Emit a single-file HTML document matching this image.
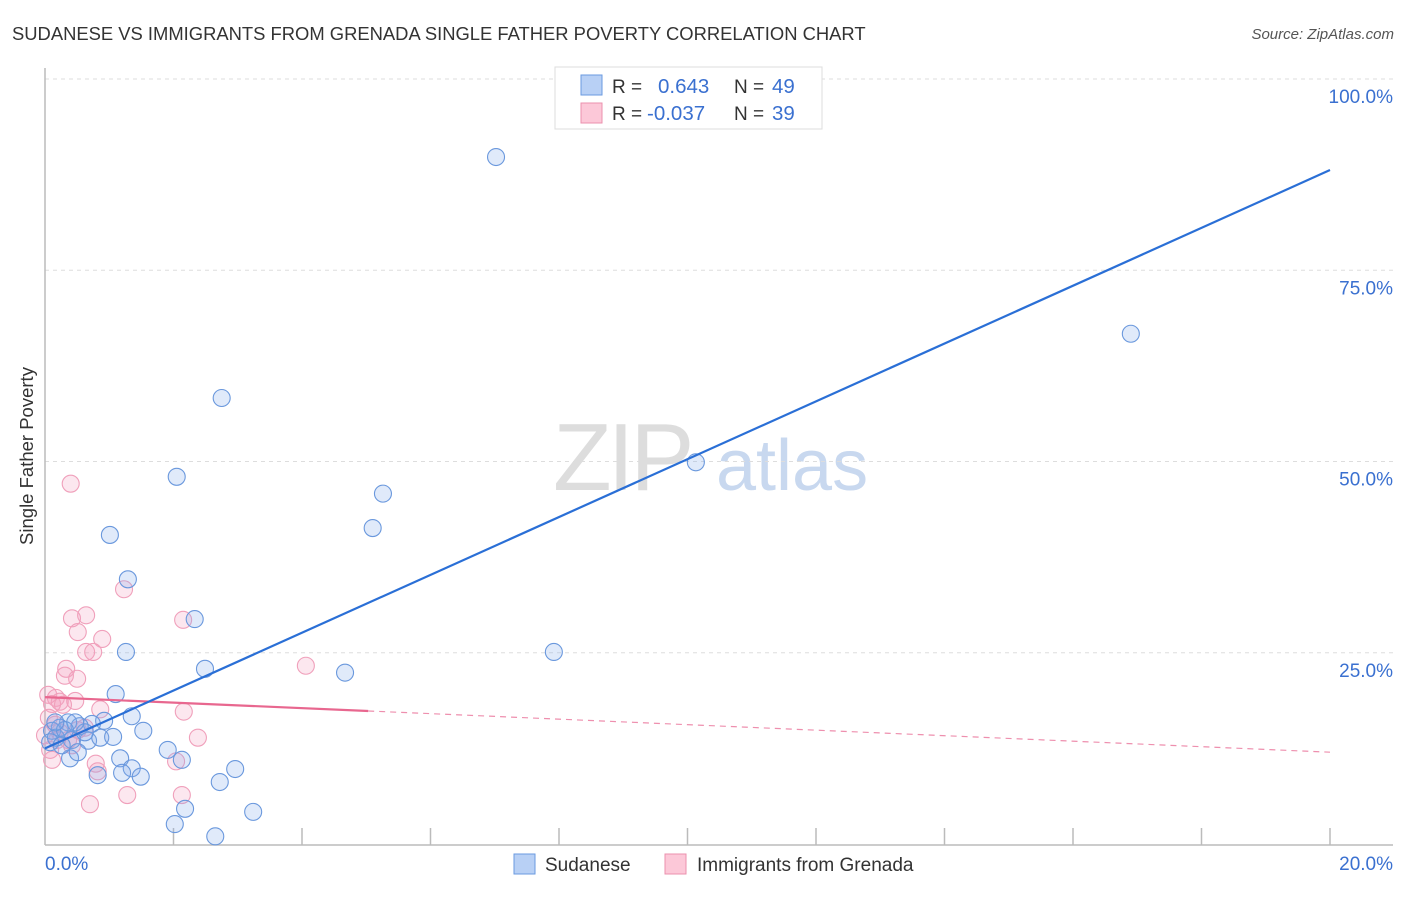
<!DOCTYPE html>
<html><head><meta charset="utf-8"><style>
body{margin:0;background:#fff;font-family:"Liberation Sans",sans-serif;}
svg text{font-family:"Liberation Sans",sans-serif;}
</style></head><body>
<svg id="chart" width="1406" height="892" xmlns="http://www.w3.org/2000/svg">
<text x="12" y="40" font-size="18.4" fill="#333">SUDANESE VS IMMIGRANTS FROM GRENADA SINGLE FATHER POVERTY CORRELATION CHART</text>
<text x="1394" y="39" font-size="15" font-style="italic" fill="#555" text-anchor="end">Source: ZipAtlas.com</text>
<g>
<text x="553" y="490" font-size="96" font-family="Liberation Serif,serif" fill="#ddd" letter-spacing="-4">ZIP</text>
<text x="716" y="490" font-size="72" fill="#c8d8ef">atlas</text>
</g>
<g id="grid"></g>
<line x1="45" y1="68" x2="45" y2="845" stroke="#bbb" stroke-width="1.5"/>
<line x1="45" y1="845" x2="1393" y2="845" stroke="#bbb" stroke-width="1.5"/>
<g id="ticks"></g>
<text x="33" y="456" font-size="18.5" fill="#333" text-anchor="middle" transform="rotate(-90 33 456)">Single Father Poverty</text>
<text x="45" y="870" font-size="19" fill="#3a70d0">0.0%</text>
<text x="1393" y="870" font-size="19" fill="#3a70d0" text-anchor="end">20.0%</text>
<g id="pts"></g>
<g id="lines"></g>
<g>
<rect x="555" y="67" width="267" height="62" fill="#fff" stroke="#ddd"/>
<rect x="581" y="75" width="21" height="20" fill="#b8d0f5" stroke="#6a9ae0"/>
<rect x="581" y="103" width="21" height="20" fill="#fcc8d8" stroke="#eb90ae"/>
<text y="93" font-size="19"><tspan x="612" fill="#333">R = </tspan><tspan x="658" fill="#3a70d0" font-size="20.5">0.643</tspan><tspan x="734" fill="#333">N = </tspan><tspan x="772" fill="#3a70d0" font-size="20.5">49</tspan></text>
<text y="120" font-size="19"><tspan x="612" fill="#333">R = </tspan><tspan x="647" fill="#3a70d0" font-size="20.5">-0.037</tspan><tspan x="734" fill="#333">N = </tspan><tspan x="772" fill="#3a70d0" font-size="20.5">39</tspan></text>
</g>
<g>
<rect x="514" y="854" width="21" height="20" fill="#b8d0f5" stroke="#6a9ae0"/>
<text x="545" y="871" font-size="19" fill="#333">Sudanese</text>
<rect x="665" y="854" width="21" height="20" fill="#fcc8d8" stroke="#eb90ae"/>
<text x="697" y="871" font-size="19" fill="#333">Immigrants from Grenada</text>
</g>
</svg>
<script>
const yTicks=[25,50,75,100];
const yTickLabels=["25.0%","50.0%","75.0%","100.0%"];
const blueX=[7.02,16.9,10.13,2.75,2.05,5.26,5.1,1.01,1.29,2.33,1.26,7.92,2.49,4.67,1.1,1.35,1.53,0.92,0.73,0.54,0.36,0.23,0.11,0.17,0.42,0.67,0.86,1.06,0.62,0.47,1.91,2.13,1.17,0.39,0.51,1.35,1.2,1.49,0.82,2.96,2.72,2.18,2.02,2.65,3.24,0.31,0.16,0.08,0.26];
const blueY=[89.8,66.7,49.9,58.3,48.0,45.8,41.3,40.4,34.6,29.4,25.1,25.1,22.9,22.4,19.6,16.7,14.8,16.1,15.7,15.4,15.9,15.2,14.8,13.9,13.6,13.5,13.9,14.0,14.6,15.9,12.3,11.0,11.2,11.2,12.0,9.9,9.3,8.8,9.0,9.8,8.1,4.6,2.6,1.0,4.2,14.9,15.9,13.3,12.9];
const pinkX=[0.4,1.23,0.42,0.64,0.51,0.89,2.15,0.64,0.75,4.06,0.33,0.31,0.5,0.05,0.17,0.23,0.47,0.11,0.28,0.86,2.16,0.06,0.16,0.19,0.08,0.23,2.38,0.79,0.82,2.04,2.13,1.28,0.7,0.36,0.51,0.0,0.11,0.42,0.62];
const pinkY=[47.1,33.3,29.5,29.9,27.7,26.8,29.3,25.1,25.1,23.3,22.9,22.0,21.6,19.5,19.1,18.6,18.7,18.3,18.2,17.6,17.3,16.5,15.6,13.6,12.3,14.6,13.9,10.5,9.5,10.8,6.4,6.4,5.2,13.6,14.9,14.2,11.0,12.9,15.2];
const blueTrend=[12.5,88.1];
const pinkTrend=[19.2,12.0];
const pinkSolidEnd=5.03;
const X=v=>45+v*64.25, Y=v=>844-v*7.65;
const NS="http://www.w3.org/2000/svg";
function mk(tag,attrs,parent){const e=document.createElementNS(NS,tag);for(const k in attrs)e.setAttribute(k,attrs[k]);parent.appendChild(e);return e;}
const grid=document.getElementById('grid');
yTicks.forEach((t,i)=>{
 const l=mk('line',{x1:45,x2:1393,y1:Y(t),y2:Y(t),stroke:'#ddd','stroke-dasharray':'4,4'},grid);
 
 
 const tx=mk('text',{x:1393,y:Y(t)+24,'font-size':19,fill:'#3a70d0','text-anchor':'end'},grid);
 tx.textContent=yTickLabels[i];
 
 
});
const ticks=document.getElementById('ticks');
for(let i=1;i<=10;i++){
 const l=mk('line',{x1:X(i*2),x2:X(i*2),y1:828,y2:845,stroke:'#bbb','stroke-width':1.5},ticks);
 
 
}
const pts=document.getElementById('pts');
pinkX.forEach((x,i)=>{
 const c=mk('circle',{cx:X(x),cy:Y(pinkY[i]),r:8.5,fill:'rgba(245,160,190,0.25)',stroke:'#f0a0bb','stroke-width':1.1},pts);
 
 
});
blueX.forEach((x,i)=>{
 const c=mk('circle',{cx:X(x),cy:Y(blueY[i]),r:8.5,fill:'rgba(130,170,235,0.25)',stroke:'#6a98dd','stroke-width':1.1},pts);
 
 
});
const lines=document.getElementById('lines');
const pAt=x=>pinkTrend[0]+(pinkTrend[1]-pinkTrend[0])*x/20;
let l1=mk('line',{x1:X(pinkSolidEnd),y1:Y(pAt(pinkSolidEnd)),x2:X(20),y2:Y(pinkTrend[1]),stroke:'#ee8fae','stroke-width':1.2,'stroke-dasharray':'6,5'},lines);


let l2=mk('line',{x1:X(0),y1:Y(pinkTrend[0]),x2:X(pinkSolidEnd),y2:Y(pAt(pinkSolidEnd)),stroke:'#e8678f','stroke-width':2.2},lines);


let l3=mk('line',{x1:X(0),y1:Y(blueTrend[0]),x2:X(20),y2:Y(blueTrend[1]),stroke:'#2a6fd6','stroke-width':2.2},lines);


</script>
</body></html>
